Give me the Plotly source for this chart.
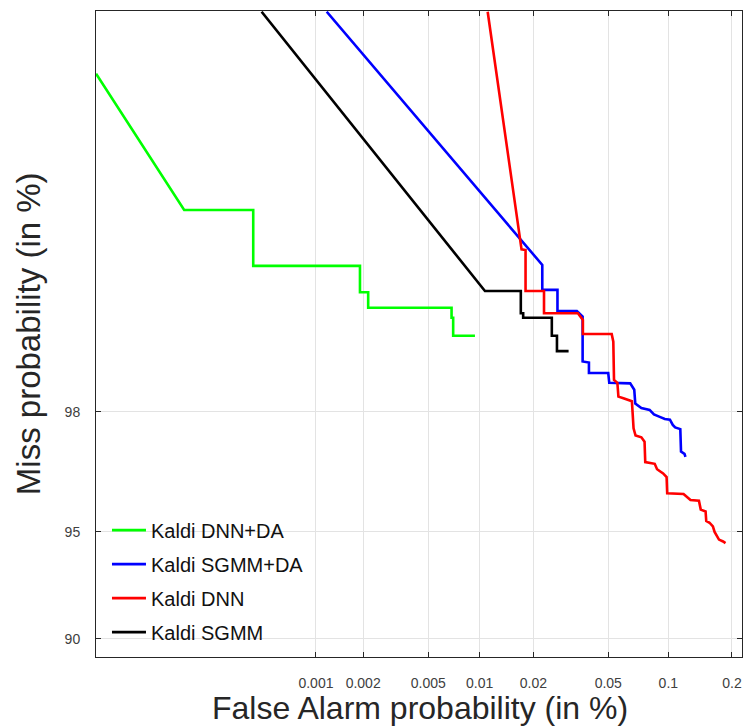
from statistics import NormalDist
import plotly.graph_objects as go

ND = NormalDist()

def probit(pct_list):
    return [ND.inv_cdf(p / 100.0) for p in pct_list]

# ---- data (percent) ----
dnn_da_fa = [2.9e-5, 1.275e-4, 3.84e-4, 3.84e-4, 1.91e-3, 1.91e-3, 2.15e-3, 2.15e-3,
             6.87e-3, 6.87e-3, 7.02e-3, 7.02e-3, 9.39e-3]
dnn_da_miss = [99.932, 99.6925, 99.6925, 99.461, 99.461, 99.305, 99.305, 99.197,
               99.197, 99.119, 99.119, 98.962, 98.962]

sgmm_da_fa = [0.001174, 0.02237, 0.02237, 0.02703, 0.02703, 0.03431, 0.03678, 0.03678,
              0.0397, 0.0397, 0.05, 0.0506, 0.0647, 0.0678, 0.0686, 0.0736, 0.0809,
              0.0850, 0.0908, 0.0961, 0.1018, 0.1051, 0.1079, 0.1143, 0.1152, 0.1197, 0.1210]
sgmm_da_miss = [99.968, 99.466, 99.321, 99.321, 99.171, 99.171, 99.129, 98.695,
                98.683, 98.557, 98.557, 98.431, 98.423, 98.336, 98.130, 98.059, 98.030,
                97.954, 97.914, 97.878, 97.866, 97.773, 97.727, 97.696, 97.248, 97.195, 97.131]

dnn_fa = [0.011105, 0.01721, 0.01811, 0.01811, 0.02286, 0.02286, 0.03473, 0.0369, 0.0369,
          0.05208, 0.05308, 0.05352, 0.05568, 0.05637, 0.05975, 0.06598, 0.06726, 0.06882,
          0.0736, 0.07634, 0.07696, 0.08575, 0.08805, 0.09432, 0.09806, 0.09873, 0.11848,
          0.1279, 0.1403, 0.1431, 0.1508, 0.1519, 0.1574, 0.1632, 0.1662, 0.1742, 0.1820, 0.1868]
dnn_miss = [99.968, 99.542, 99.539, 99.314, 99.314, 99.154, 99.154, 99.101, 98.978,
            98.978, 98.904, 98.469, 98.431, 98.236, 98.211, 98.166, 97.709, 97.575,
            97.540, 97.452, 97.011, 96.972, 96.843, 96.739, 96.647, 96.218, 96.199,
            96.026, 96.003, 95.736, 95.679, 95.373, 95.315, 95.191, 95.003, 94.727, 94.658, 94.594]

sgmm_fa = [4.375e-4, 0.010717, 0.01705, 0.01705, 0.01757, 0.01757, 0.0252, 0.0252,
           0.02686, 0.02686, 0.0310]
sgmm_miss = [99.968, 99.3136, 99.3136, 99.154, 99.154, 99.119, 99.119, 98.962,
             98.962, 98.809, 98.809]

x_ticks = [0.001, 0.002, 0.005, 0.01, 0.02, 0.05, 0.1, 0.2]
x_tick_text = ["0.001", "0.002", "0.005", "0.01", "0.02", "0.05", "0.1", "0.2"]
y_ticks = [90, 95, 98]
y_tick_text = ["90", "95", "98"]

x_title = "False Alarm probability (in %)"
y_title = "Miss probability (in %)"

series = [
    ("Kaldi DNN+DA", dnn_da_fa, dnn_da_miss, "#00ff00"),
    ("Kaldi SGMM+DA", sgmm_da_fa, sgmm_da_miss, "#0000ff"),
    ("Kaldi DNN", dnn_fa, dnn_miss, "#ff0000"),
    ("Kaldi SGMM", sgmm_fa, sgmm_miss, "#000000"),
]

FONT = "Liberation Sans, Arial, sans-serif"

fig = go.Figure()
for i, (name, fa, miss, col) in enumerate(series):
    fig.add_trace(go.Scatter(
        x=probit(fa), y=probit(miss), mode="lines", name=name,
        legendgroup=f"g{i}",
        line=dict(color=col, width=2.6), cliponaxis=True,
    ))

axis_common = dict(
    showline=True, linecolor="#262626", linewidth=1, mirror="ticks",
    ticks="inside", ticklen=5, tickcolor="#262626",
    showgrid=True, gridcolor="#e3e3e3", gridwidth=1, zeroline=False,
    tickfont=dict(family=FONT, size=14, color="#404040"),
    automargin=False,
)

fig.update_xaxes(
    range=[-4.998, -2.8447], tickmode="array",
    tickvals=probit(x_ticks), ticktext=x_tick_text,
    ticklabelstandoff=13,
    **axis_common,
)
fig.update_yaxes(
    range=[1.2196, 3.4166], tickmode="array",
    tickvals=probit(y_ticks), ticktext=y_tick_text,
    ticklabelstandoff=12,
    **axis_common,
)

fig.add_annotation(
    text=x_title, xref="paper", yref="paper", x=0.5023, y=-0.1091,
    xanchor="center", yanchor="bottom", showarrow=False, borderpad=0,
    font=dict(family=FONT, size=32, color="#262626"),
)
fig.add_annotation(
    text=y_title, xref="paper", yref="paper", x=-0.105, y=0.5,
    xanchor="center", yanchor="middle", showarrow=False, textangle=-90,
    font=dict(family=FONT, size=33, color="#262626"),
)

fig.update_layout(
    width=745, height=727,
    margin=dict(l=96, r=3, t=11, b=70),
    paper_bgcolor="white", plot_bgcolor="white",
    showlegend=True,
    legend=dict(
        x=0.017, y=0.2266, xanchor="left", yanchor="top",
        bgcolor="rgba(255,255,255,0)", borderwidth=0,
        font=dict(family=FONT, size=20, color="#111111"),
        tracegroupgap=5, traceorder="grouped", itemwidth=34,
    ),
)

fig.write_html("out.html")
